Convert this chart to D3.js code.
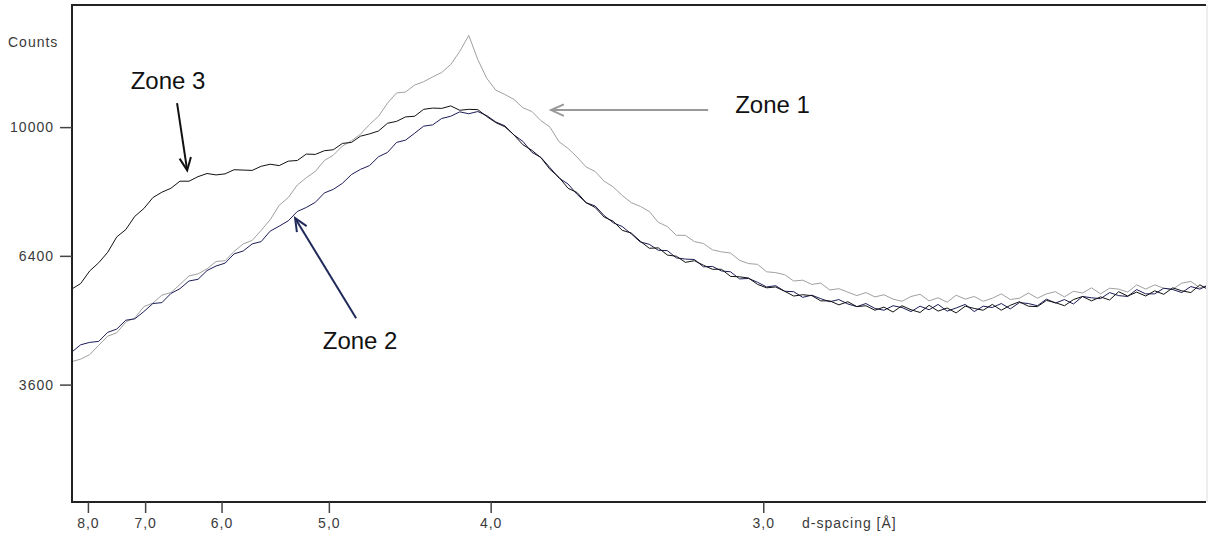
<!DOCTYPE html>
<html>
<head>
<meta charset="utf-8">
<script src="https://cdn.jsdelivr.net/npm/d3@7/dist/d3.min.js"></script>
<style>
  body { margin: 0; background: #fff; }
  svg { display: block; }
  .tick text, .small { font-family: "Liberation Sans", Arial, sans-serif; font-size: 14px; fill: #3a3a3a; letter-spacing: 1px; }
  .note { font-family: "Liberation Sans", Arial, sans-serif; font-size: 24px; fill: #111; }
</style>
</head>
<body>
<div id="chart"></div>
<script>
// scan positions, 2-theta in degrees (Cu K-alpha), step 0.25
var twoTheta = d3.range(127).map(function(i) { return 10.6 + 0.25 * i; });

// counts
var zone1 = [4040,4090,4180,4370,4560,4630,4860,4950,5200,5280,5460,5520,5710,5910,5960,6080,6260,6280,6510,6700,
  6790,7050,7330,7720,7930,8280,8490,8670,8990,9150,9420,9580,9780,10080,10340,10760,11090,11120,11350,11460,
  11620,11770,12040,12490,13050,12210,11570,11180,11040,10880,10610,10490,10200,10000,9550,9350,9090,8800,8670,8390,
  8230,7990,7790,7690,7550,7260,7150,6920,6920,6760,6710,6550,6500,6470,6290,6210,6190,6010,5990,5940,
  5790,5810,5710,5740,5580,5610,5530,5450,5520,5420,5470,5370,5320,5430,5480,5330,5400,5300,5460,5370,
  5430,5320,5390,5490,5360,5390,5510,5390,5490,5540,5420,5550,5510,5630,5490,5620,5600,5530,5700,5600,
  5700,5620,5600,5740,5780,5630,5700];
var zone2 = [4230,4380,4430,4450,4640,4710,4900,4930,5090,5270,5290,5500,5610,5790,5830,6040,6150,6220,6450,6520,
  6700,6760,7030,7160,7300,7550,7660,7800,8060,8160,8330,8580,8730,8840,9100,9230,9530,9600,9810,10030,
  10070,10270,10340,10480,10420,10490,10360,10160,10040,9760,9560,9230,9080,8780,8480,8310,8020,7790,7700,7440,
  7250,7150,6960,6750,6690,6540,6530,6350,6320,6310,6130,6140,6030,6010,5840,5850,5760,5650,5680,5550,
  5540,5410,5460,5380,5310,5360,5260,5200,5270,5160,5120,5220,5180,5090,5210,5130,5250,5100,5170,5250,
  5090,5210,5180,5270,5150,5290,5270,5220,5370,5280,5360,5260,5430,5400,5380,5520,5450,5430,5590,5490,
  5490,5620,5590,5520,5660,5600,5700];
var zone3 = [5600,5730,6030,6230,6490,6880,7070,7420,7630,7930,8080,8190,8390,8390,8520,8610,8570,8600,8720,8710,
  8700,8820,8880,8840,8970,8990,9180,9170,9280,9310,9500,9530,9720,9790,9880,10120,10180,10320,10340,10560,
  10600,10590,10670,10530,10560,10550,10330,10140,10010,9760,9460,9290,9070,8730,8500,8190,8070,7790,7660,7400,
  7290,7050,6980,6770,6590,6600,6420,6390,6240,6280,6170,6070,6070,5900,5890,5860,5710,5630,5650,5550,
  5440,5470,5450,5330,5330,5240,5310,5200,5220,5120,5190,5080,5220,5130,5070,5230,5100,5170,5060,5210,
  5160,5120,5250,5120,5230,5310,5210,5200,5340,5290,5220,5360,5430,5330,5420,5350,5540,5440,5530,5440,
  5560,5480,5630,5560,5520,5700,5580];

var seriesNames = ["Zone 1", "Zone 2", "Zone 3"];
var seriesColors = ["#a0a0a0", "#1c1c58", "#111111"];

var yTicks = [3600, 6400, 10000];
var dTicks = [8, 7, 6, 5, 4, 3];
var dLabels = ["8,0", "7,0", "6,0", "5,0", "4,0", "3,0"];

var lambda = 1.5406;
function toTwoTheta(d) { return 2 * Math.asin(lambda / (2 * d)) * 180 / Math.PI; }

var width = 1208, height = 534;
var plotLeft = 72, plotRight = 1206, plotTop = 5, plotBottom = 502;

var x = d3.scaleLinear().domain([10.61, 42.02]).range([plotLeft, plotRight]);
var y = d3.scaleSqrt().domain([1744, 14154]).range([plotBottom, plotTop]);

var svg = d3.select("#chart").append("svg")
  .attr("width", width)
  .attr("height", height);

svg.append("defs").append("clipPath").attr("id", "plot")
  .append("rect")
  .attr("x", plotLeft).attr("y", plotTop)
  .attr("width", plotRight - plotLeft).attr("height", plotBottom - plotTop);

var line = d3.line()
  .x(function(d, i) { return x(twoTheta[i]); })
  .y(function(d) { return y(d); });

var g = svg.append("g").attr("clip-path", "url(#plot)");
[zone1, zone2, zone3].forEach(function(s, k) {
  g.append("path")
    .attr("d", line(s))
    .attr("fill", "none")
    .attr("stroke", seriesColors[k])
    .attr("stroke-width", 1);
});

// frame
svg.append("path")
  .attr("d", "M" + plotRight + "," + plotTop + "H" + plotLeft + "V" + plotBottom + "H" + plotRight)
  .attr("fill", "none")
  .attr("stroke", "#222")
  .attr("stroke-width", 2);
svg.append("line")
  .attr("x1", plotRight + 1).attr("x2", plotRight + 1)
  .attr("y1", plotTop).attr("y2", plotBottom)
  .attr("stroke", "#ddd");

var yAxis = svg.append("g")
  .attr("transform", "translate(" + plotLeft + ",0)")
  .call(d3.axisLeft(y).tickValues(yTicks).tickSize(12).tickPadding(6).tickFormat(d3.format("d")));
yAxis.select(".domain").remove();
yAxis.selectAll(".tick line").attr("stroke", "#444").attr("stroke-width", 1.5);

var xAxis = svg.append("g")
  .attr("transform", "translate(0," + plotBottom + ")")
  .call(d3.axisBottom(x).tickValues(dTicks.map(toTwoTheta)).tickSize(11).tickPadding(5)
    .tickFormat(function(v, i) { return dLabels[i]; }));
xAxis.select(".domain").remove();
xAxis.selectAll(".tick line").attr("stroke", "#444").attr("stroke-width", 1.5);

svg.append("text")
  .attr("class", "small")
  .attr("x", 8).attr("y", 47)
  .text("Counts");

svg.append("text")
  .attr("class", "small")
  .attr("x", 802).attr("y", 528)
  .text("d-spacing [Å]");

// zone labels and arrows, placed in data units (2-theta, counts)
var notes = [
  {name: "Zone 3", tx: 13.27, ty: 11500, anchor: "middle", from: [13.52, 10760], to: [13.80, 8700], color: "#111"},
  {name: "Zone 1", tx: 28.98, ty: 10696, anchor: "start", from: [28.23, 10536], to: [23.88, 10536], color: "#999"},
  {name: "Zone 2", tx: 18.59, ty: 4472, anchor: "middle", from: [18.48, 4942], to: [16.79, 7370], color: "#1f2a5a"}
];

notes.forEach(function(n) {
  svg.append("text")
    .attr("class", "note")
    .attr("x", x(n.tx)).attr("y", y(n.ty))
    .attr("dy", "0.35em")
    .attr("text-anchor", n.anchor)
    .text(n.name);
  var x1 = x(n.from[0]), y1 = y(n.from[1]), x2 = x(n.to[0]), y2 = y(n.to[1]);
  var a = Math.atan2(y2 - y1, x2 - x1), len = 14, spread = 0.42;
  svg.append("line")
    .attr("x1", x1).attr("y1", y1).attr("x2", x2).attr("y2", y2)
    .attr("stroke", n.color).attr("stroke-width", 2);
  svg.append("path")
    .attr("d", "M" + (x2 - len * Math.cos(a - spread)) + "," + (y2 - len * Math.sin(a - spread)) +
      "L" + x2 + "," + y2 +
      "L" + (x2 - len * Math.cos(a + spread)) + "," + (y2 - len * Math.sin(a + spread)))
    .attr("fill", "none")
    .attr("stroke", n.color)
    .attr("stroke-width", 2);
});
</script>
</body>
</html>
